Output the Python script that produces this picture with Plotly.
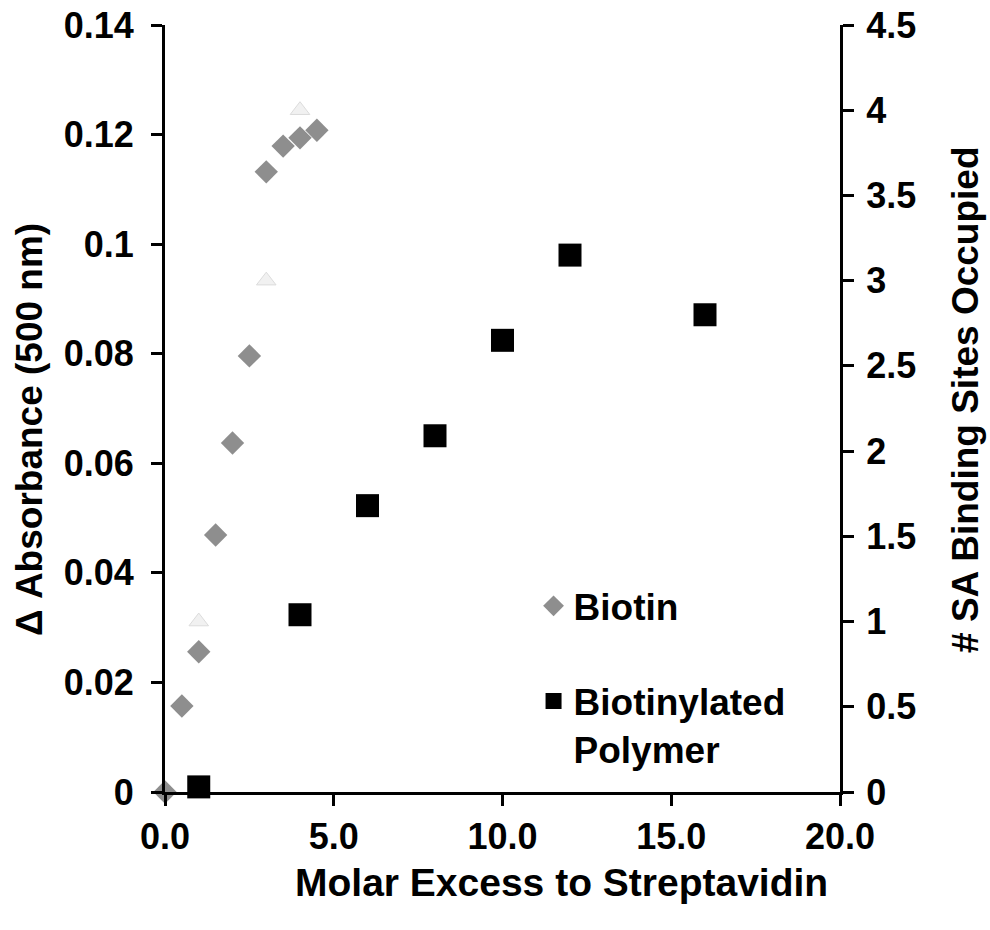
import plotly.graph_objects as go

# Biotin titration: change in absorbance at 500 nm (left axis)
biotin_x = [0.0, 0.5, 1.0, 1.5, 2.0, 2.5, 3.0, 3.5, 4.0, 4.5]
biotin_abs = [0.0, 0.0157, 0.0256, 0.0469, 0.0637, 0.0796, 0.1132, 0.1179, 0.1194, 0.1208]

# Theoretical site occupancy reference points (right axis)
ref_x = [1.0, 3.0, 4.0]
ref_sites = [1.0, 3.0, 4.0]

# Biotinylated polymer: streptavidin binding sites occupied (right axis)
poly_x = [1.0, 4.0, 6.0, 8.0, 10.0, 12.0, 16.0]
poly_sites = [0.03, 1.04, 1.68, 2.09, 2.65, 3.15, 2.80]

x_ticks = [0, 5, 10, 15, 20]
left_ticks = [0, 0.02, 0.04, 0.06, 0.08, 0.1, 0.12, 0.14]
right_ticks = [0, 0.5, 1, 1.5, 2, 2.5, 3, 3.5, 4, 4.5]

x_title = "Molar Excess to Streptavidin"
left_title = "Δ Absorbance (500 nm)"
right_title = "# SA Binding Sites Occupied"

FONT = "Liberation Sans, Arial, sans-serif"


def bold(size):
    return dict(family=FONT, size=size, color="black", weight="bold")


fig = go.Figure()

fig.add_trace(go.Scatter(
    x=ref_x, y=ref_sites, yaxis="y2", mode="markers",
    marker=dict(symbol="triangle-up", size=17, color="#f1f1f1",
                line=dict(color="#dcdcdc", width=1)),
    showlegend=False, cliponaxis=False,
))

fig.add_trace(go.Scatter(
    x=biotin_x, y=biotin_abs, mode="markers", name="Biotin",
    marker=dict(symbol="diamond", size=18, color="#8e8e8e", line=dict(width=0)),
    legendgroup="a", cliponaxis=False,
))

fig.add_trace(go.Scatter(
    x=poly_x, y=poly_sites, yaxis="y2", mode="markers",
    name="Biotinylated<br>Polymer",
    marker=dict(symbol="square", size=23, color="#000000", line=dict(width=0)),
    legendgroup="b", cliponaxis=False,
))

axis_common = dict(
    showline=True, linecolor="black", linewidth=3,
    ticks="outside", ticklen=11, tickwidth=3, tickcolor="black",
    showgrid=False, zeroline=False,
    tickfont=bold(36),
)

fig.update_layout(
    width=990, height=930,
    margin=dict(l=165, r=150, t=25, b=138, autoexpand=False),
    paper_bgcolor="white", plot_bgcolor="white",
    xaxis=dict(range=[0, 20], tickvals=x_ticks, tickformat=".1f", tickangle=0,
               **axis_common),
    yaxis=dict(range=[0, 0.14], tickvals=left_ticks, ticklabelstandoff=10,
               **axis_common),
    yaxis2=dict(range=[0, 4.5], tickvals=right_ticks, overlaying="y", side="right",
                ticklabelstandoff=5, **axis_common),
    legend=dict(
        x=0.546, y=0.2825, xanchor="left", yanchor="top",
        font=bold(37), bgcolor="rgba(0,0,0,0)",
        tracegroupgap=44, valign="top", itemsizing="trace",
    ),
    annotations=[
        dict(text=x_title, xref="paper", yref="paper", x=0.587, y=-0.118,
             xanchor="center", yanchor="middle", showarrow=False, font=bold(39)),
        dict(text=left_title, xref="paper", yref="paper", x=-0.2, y=0.472,
             xanchor="center", yanchor="middle", showarrow=False, textangle=-90,
             font=bold(37)),
        dict(text=right_title, xref="paper", yref="paper", x=1.185, y=0.511,
             xanchor="center", yanchor="middle", showarrow=False, textangle=-90,
             font=bold(37)),
    ],
)

fig.write_html("out.html")
